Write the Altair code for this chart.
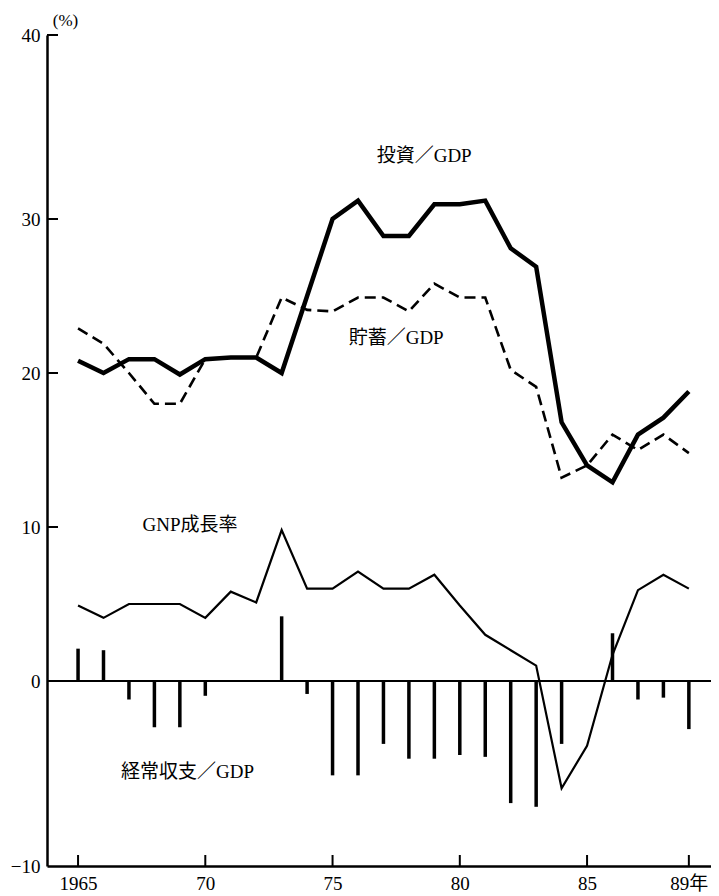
import altair as alt
import pandas as pd

years = list(range(1965, 1990))
investment = [20.8, 20.0, 20.9, 20.9, 19.9, 20.9, 21.0, 21.0, 20.0, 25.0, 30.0, 31.0, 28.9,
              28.9, 30.8, 30.8, 31.0, 28.1, 26.9, 16.8, 14.0, 12.9, 16.0, 17.1, 18.8]
savings = [22.9, 21.9, 20.0, 18.0, 18.0, 20.9, 21.0, 21.0, 24.9, 24.1, 24.0, 24.9, 24.9,
           24.0, 25.8, 24.9, 24.9, 20.2, 19.1, 13.2, 14.0, 16.0, 15.0, 16.0, 14.8]
gnp_growth = [4.9, 4.1, 5.0, 5.0, 5.0, 4.1, 5.8, 5.1, 9.8, 6.0, 6.0, 7.1, 6.0,
              6.0, 6.9, 4.9, 3.0, 2.0, 1.0, -5.8, -3.5, 1.7, 5.9, 6.9, 6.0]
current_account = [2.1, 2.0, -1.0, -2.5, -2.5, -0.8, 0.0, 0.0, 4.2, -0.7, -5.1, -5.1, -3.4,
                    -4.2, -4.2, -4.0, -4.1, -6.6, -6.8, -3.4, 0.0, 3.1, -1.0, -0.9, -2.6]

x_ticks = [1965, 1970, 1975, 1980, 1985, 1989]
y_ticks = [-10, 0, 10, 20, 30, 40]

label_text = ["投資／GDP", "貯蓄／GDP", "GNP成長率", "経常収支／GDP"]
label_year = [1978.6, 1977.5, 1969.4, 1969.3]
label_value = [33.4, 22.3, 10.1, -4.9]

FONT = "Liberation Serif, Noto Sans CJK JP"
W, H = 664, 831

df = pd.DataFrame({"year": years, "inv": investment, "sav": savings,
                   "gnp": gnp_growth, "ca": current_account})
labels = pd.DataFrame({"t": label_text, "year": label_year, "v": label_value})

xscale = alt.Scale(domain=[1963.78, 1989.87], nice=False, zero=False)
yscale = alt.Scale(domain=[-10, 0, 30, 40], range=[831, 646, 184, 0], nice=False, zero=False)

x_axis = alt.Axis(values=x_ticks, tickSize=0, domainColor="black", domainWidth=2.5,
                  labelFont=FONT, labelFontSize=19, labelColor="black", labelPadding=8,
                  grid=False, title=None,
                  labelExpr="datum.value == 1965 ? '1965' : datum.value == 1989 ? '89年' : format(datum.value % 100, '02d')")
y_axis = alt.Axis(values=y_ticks, tickSize=0, domainColor="black", domainWidth=2.5,
                  labelFont=FONT, labelFontSize=19, labelColor="black", labelPadding=7,
                  grid=False, title="(%)", titleAngle=0, titleFont=FONT, titleFontSize=17,
                  titleFontWeight="normal", titleX=18, titleY=-15, titleAlign="center",
                  titleBaseline="middle", titleColor="black")

base = alt.Chart(df)

inv_line = base.mark_line(color="black", strokeWidth=4.5, strokeJoin="miter").encode(
    x=alt.X("year:Q", scale=xscale, axis=x_axis),
    y=alt.Y("inv:Q", scale=yscale, axis=y_axis),
)
sav_line = base.mark_line(color="black", strokeWidth=2.6, strokeDash=[11, 6]).encode(
    x=alt.X("year:Q", scale=xscale), y=alt.Y("sav:Q", scale=yscale))
gnp_line = base.mark_line(color="black", strokeWidth=2.2).encode(
    x=alt.X("year:Q", scale=xscale), y=alt.Y("gnp:Q", scale=yscale))
ca_bars = base.mark_rule(color="black", strokeWidth=3.5).encode(
    x=alt.X("year:Q", scale=xscale), y=alt.Y("ca:Q", scale=yscale), y2=alt.datum(0))

zero_line = alt.Chart(pd.DataFrame({"v": [0]})).mark_rule(color="black", strokeWidth=2).encode(
    y=alt.Y("v:Q", scale=yscale), x=alt.value(0), x2=alt.value(W))

ytick_df = pd.DataFrame({"v": [t for t in y_ticks if t > 0]})
y_tick_marks = alt.Chart(ytick_df).mark_rule(color="black", strokeWidth=2).encode(
    y=alt.Y("v:Q", scale=yscale), x=alt.value(0), x2=alt.value(11))
xtick_df = pd.DataFrame({"v": x_ticks})
x_tick_marks = alt.Chart(xtick_df).mark_rule(color="black", strokeWidth=2).encode(
    x=alt.X("v:Q", scale=xscale), y=alt.value(H), y2=alt.value(H - 11))

texts = alt.Chart(labels).mark_text(font=FONT, fontSize=19, color="black",
                                    align="center", baseline="middle").encode(
    x=alt.X("year:Q", scale=xscale), y=alt.Y("v:Q", scale=yscale), text="t:N")

chart = alt.layer(zero_line, ca_bars, gnp_line, sav_line, inv_line,
                  y_tick_marks, x_tick_marks, texts).properties(
    width=W, height=H,
    autosize=alt.AutoSizeParams(type="none"),
    padding={"left": 39, "top": 27, "right": 0, "bottom": 26},
).configure(background="white").configure_view(stroke=None)

chart.save("out.html", embed_options={"renderer": "svg", "actions": False})
